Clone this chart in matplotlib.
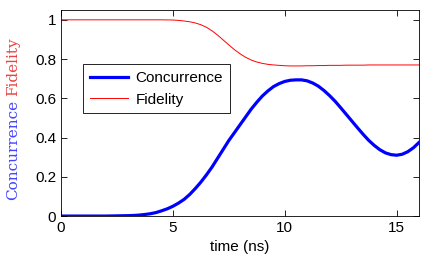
import matplotlib
matplotlib.use("Agg")
import matplotlib.pyplot as plt
import numpy as np

# time axis (ns), 0.25 ns steps
t = np.arange(0, 16.001, 0.25)

concurrence = [0.0, 0.0, 0.0, 0.0, 0.0, 0.0, 0.0, 0.0, 0.0,          # 0 - 2
               0.0005, 0.001, 0.0015, 0.002, 0.003, 0.005, 0.008,      # 2.25 - 3.75
               0.012, 0.018, 0.027, 0.037, 0.05, 0.066, 0.085, 0.11,   # 4 - 5.75
               0.14, 0.173, 0.21, 0.25, 0.295, 0.34, 0.385, 0.425,     # 6 - 7.75
               0.465, 0.505, 0.545, 0.58, 0.612, 0.638, 0.66, 0.675,   # 8 - 9.75
               0.686, 0.692, 0.694, 0.694, 0.689, 0.678, 0.662, 0.64,  # 10 - 11.75
               0.614, 0.585, 0.552, 0.518, 0.484, 0.45, 0.417, 0.386,  # 12 - 13.75
               0.36, 0.338, 0.322, 0.313, 0.31, 0.315, 0.328, 0.348,   # 14 - 15.75
               0.375]                                                  # 16

fidelity = [1.0, 1.0, 1.0, 1.0, 1.0, 1.0, 1.0, 1.0,                    # 0 - 1.75
            1.0, 1.0, 1.0, 1.0, 1.0, 1.0, 1.0, 1.0,                    # 2 - 3.75
            1.0, 1.0, 1.0, 0.9995, 0.999, 0.997, 0.994, 0.99,          # 4 - 5.75
            0.984, 0.975, 0.962, 0.944, 0.922, 0.897, 0.872, 0.848,    # 6 - 7.75
            0.827, 0.809, 0.795, 0.785, 0.778, 0.773, 0.77, 0.768,     # 8 - 9.75
            0.766, 0.765, 0.765, 0.765, 0.766, 0.766, 0.767, 0.767,    # 10 - 11.75
            0.768, 0.768, 0.768, 0.769, 0.769, 0.769, 0.769, 0.77,     # 12 - 13.75
            0.77, 0.77, 0.77, 0.77, 0.77, 0.77, 0.77, 0.77,            # 14 - 15.75
            0.77]                                                      # 16

plt.rcParams['font.family'] = ['Liberation Sans', 'DejaVu Sans']

fig = plt.figure(figsize=(4.36, 2.6), dpi=100)
ax = fig.add_axes([0.14, 0.169, 0.821, 0.7925])

ax.plot(t, concurrence, color='#0000ff', lw=2.3, label='Concurrence')
ax.plot(t, fidelity, color='#ff0000', lw=0.7, label='Fidelity')

ax.set_xlim(0, 16)
ax.set_ylim(0, 1.05)
ax.set_xticks([0, 5, 10, 15])
ax.set_yticks([0, 0.2, 0.4, 0.6, 0.8, 1])
ax.set_yticklabels(['0', '0.2', '0.4', '0.6', '0.8', '1'])
ax.tick_params(direction='in', top=True, right=True, labelsize=11, length=4, width=0.6)
for s in ax.spines.values():
    s.set_linewidth(0.6)

ax.set_xlabel('time (ns)', fontsize=11, labelpad=4)

# two-colour y label
ax.text(-0.135, 0.32, 'Concurrence', color='#4444ff', rotation=90, fontsize=11,
        family='DejaVu Serif', transform=ax.transAxes, ha='center', va='center')
ax.text(-0.135, 0.725, 'Fidelity', color='#e84444', rotation=90, fontsize=11,
        family='DejaVu Serif', transform=ax.transAxes, ha='center', va='center')

leg = ax.legend(loc='upper left', bbox_to_anchor=(0.061, 0.738), fontsize=11,
                fancybox=False, edgecolor='black', framealpha=1,
                borderaxespad=0, handlelength=2.5, handletextpad=0.5,
                borderpad=0.45, labelspacing=0.5)
leg.get_frame().set_linewidth(0.6)

fig.savefig('out.png', dpi=100)
